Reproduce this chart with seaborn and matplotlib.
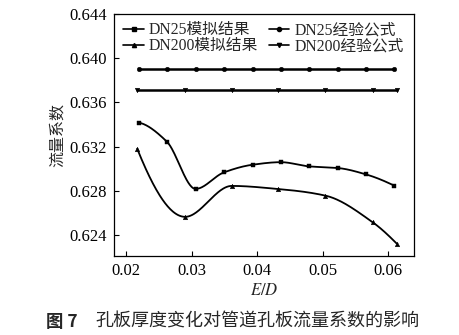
import numpy as np
import pandas as pd
import matplotlib
matplotlib.use("Agg")
import matplotlib.pyplot as plt
from matplotlib.lines import Line2D
import seaborn as sns

# E/D positions and flow coefficients
ed_dn25 = [0.0219, 0.0262, 0.0306, 0.0349, 0.0393, 0.0436, 0.0479, 0.0523, 0.0566, 0.0609]
sim_dn25 = [0.63418, 0.63246, 0.62817, 0.62966, 0.63036, 0.63059, 0.63021, 0.63006, 0.62948, 0.62846]
emp_dn25 = [0.6390] * 10

ed_dn200 = [0.0217, 0.0290, 0.0361, 0.0432, 0.0504, 0.0576, 0.0613]
sim_dn200 = [0.63180, 0.62564, 0.62844, 0.62816, 0.62756, 0.62515, 0.62320]
emp_dn200 = [0.6371] * 7

labels = ["DN25模拟结果", "DN25经验公式", "DN200模拟结果", "DN200经验公式"]
xticks = [0.02, 0.03, 0.04, 0.05, 0.06]
yticks = [0.624, 0.628, 0.632, 0.636, 0.640, 0.644]

sns.set_style("ticks")
plt.rcParams["font.family"] = ["Liberation Serif", "Noto Sans CJK SC"]
plt.rcParams["mathtext.fontset"] = "stix"


def pchip_curve(x, y, n=300):
    """Shape-preserving cubic (Fritsch-Carlson) curve through (x, y)."""
    x = np.asarray(x, float)
    y = np.asarray(y, float)
    h = np.diff(x)
    delta = np.diff(y) / h
    m = np.zeros_like(y)
    for k in range(1, len(x) - 1):
        if delta[k - 1] * delta[k] > 0:
            w1 = 2 * h[k] + h[k - 1]
            w2 = h[k] + 2 * h[k - 1]
            m[k] = (w1 + w2) / (w1 / delta[k - 1] + w2 / delta[k])

    def end_slope(h0, h1, d0, d1):
        s = ((2 * h0 + h1) * d0 - h0 * d1) / (h0 + h1)
        if np.sign(s) != np.sign(d0):
            s = 0.0
        elif np.sign(d0) != np.sign(d1) and abs(s) > abs(3 * d0):
            s = 3 * d0
        return s

    m[0] = end_slope(h[0], h[1], delta[0], delta[1])
    m[-1] = end_slope(h[-1], h[-2], delta[-1], delta[-2])
    xs = np.linspace(x[0], x[-1], n)
    idx = np.clip(np.searchsorted(x, xs) - 1, 0, len(x) - 2)
    t = (xs - x[idx]) / h[idx]
    h00 = 2 * t ** 3 - 3 * t ** 2 + 1
    h10 = t ** 3 - 2 * t ** 2 + t
    h01 = -2 * t ** 3 + 3 * t ** 2
    h11 = t ** 3 - t ** 2
    ys = (h00 * y[idx] + h10 * h[idx] * m[idx]
          + h01 * y[idx + 1] + h11 * h[idx] * m[idx + 1])
    return xs, ys


fig = plt.figure(figsize=(4.6, 3.35), dpi=100)
ax = fig.add_axes([0.248, 0.236, 0.652, 0.722])

series = [
    (ed_dn25, sim_dn25, "s", 1.3, True),
    (ed_dn25, emp_dn25, "o", 1.8, False),
    (ed_dn200, sim_dn200, "^", 1.3, True),
    (ed_dn200, emp_dn200, "v", 1.8, False),
]
handles = []
for (xv, yv, mk, lw, smooth), lab in zip(series, labels):
    if smooth:
        xs, ys = pchip_curve(xv, yv)
    else:
        xs, ys = np.asarray(xv), np.asarray(yv)
    sns.lineplot(x=xs, y=ys, ax=ax, color="black", lw=lw, sort=False,
                 estimator=None)
    sns.scatterplot(x=xv, y=yv, ax=ax, color="black", marker=mk, s=11,
                    edgecolor="black", linewidth=0.3, zorder=3)
    handles.append(Line2D([], [], color="black", lw=1.2, marker=mk,
                          markersize=3, label=lab))

ax.set_xlim(0.01817, 0.0639)
ax.set_ylim(0.6221, 0.644)
ax.set_xticks(xticks)
ax.set_xticklabels([f"{v:.2f}" for v in xticks])
ax.set_yticks(yticks)
ax.set_yticklabels([f"{v:.3f}" for v in yticks])
ax.tick_params(direction="in", length=3.5, width=0.8, labelsize=12,
               colors="black", pad=5)
for sp in ax.spines.values():
    sp.set_visible(True)
    sp.set_linewidth(0.9)
    sp.set_color("black")

ax.set_xlabel("$E/D$", fontsize=12, labelpad=3)
ax.set_ylabel("流量系数", fontsize=11.5, family=["Noto Sans CJK SC"],
              labelpad=3)

order = [0, 2, 1, 3]
ax.legend([handles[i] for i in order], [labels[i] for i in order], ncol=2,
          loc="upper left", bbox_to_anchor=(0.0, 1.005), frameon=False,
          fontsize=11.3, handlelength=1.3, handletextpad=0.3,
          columnspacing=0.7, labelspacing=0.0, borderaxespad=0.2)

fig.text(0.1, 0.04, "图 7", fontsize=12.5, weight="bold",
         family=["Noto Sans CJK SC"], ha="left", va="center")
fig.text(0.207, 0.04, "孔板厚度变化对管道孔板流量系数的影响", fontsize=13,
         family=["Noto Sans CJK SC"], ha="left", va="center")

fig.savefig("out.png", dpi=100, facecolor="white")
